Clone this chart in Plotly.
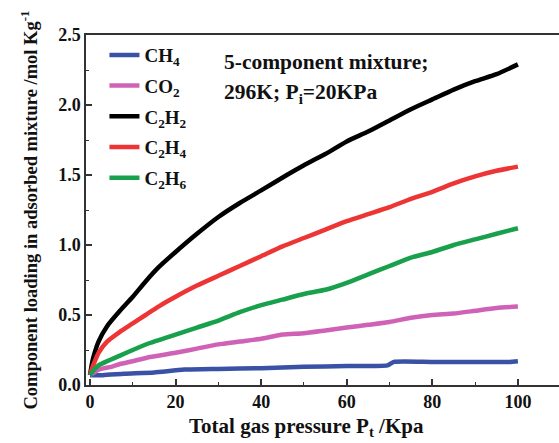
import plotly.graph_objects as go

# Pressure grids (KPa) and component loadings (mol/kg)
x_ch4 = [0, 3, 8, 15, 22, 30, 40, 50, 60, 69.5, 71, 80, 90, 98, 100]
y_ch4 = [0.07, 0.07, 0.08, 0.09, 0.11, 0.115, 0.12, 0.13, 0.135, 0.14, 0.165, 0.165, 0.165, 0.165, 0.17]

x_co2 = [0, 1, 2, 5, 7, 10, 14, 20, 25, 30, 35, 40, 45, 50, 55, 60, 65, 70, 75, 80, 85, 90, 95, 100]
y_co2 = [0.07, 0.09, 0.11, 0.13, 0.15, 0.17, 0.20, 0.23, 0.26, 0.29, 0.31, 0.33, 0.36, 0.37, 0.39,
         0.41, 0.43, 0.45, 0.48, 0.50, 0.51, 0.53, 0.55, 0.56]

x_c2h2 = [0, 0.5, 1, 2, 4, 7, 10, 13, 16, 20, 25, 30, 35, 40, 46, 50, 55, 60, 65, 70, 75, 80, 85, 90, 95, 100]
y_c2h2 = [0.07, 0.16, 0.22, 0.31, 0.42, 0.53, 0.63, 0.74, 0.84, 0.95, 1.08, 1.20, 1.30, 1.39, 1.50, 1.57,
          1.65, 1.74, 1.81, 1.89, 1.97, 2.04, 2.11, 2.17, 2.22, 2.29]

x_c2h4 = [0, 0.5, 1, 2, 4, 7, 10, 13, 16, 20, 25, 30, 35, 40, 45, 50, 55, 60, 65, 70, 75, 80, 85, 90, 95, 100]
y_c2h4 = [0.07, 0.12, 0.16, 0.23, 0.31, 0.38, 0.44, 0.50, 0.56, 0.63, 0.71, 0.78, 0.85, 0.92, 0.99, 1.05,
          1.11, 1.17, 1.22, 1.27, 1.33, 1.38, 1.44, 1.49, 1.53, 1.56]

x_c2h6 = [0, 1, 2, 4, 7, 10, 14, 20, 25, 30, 35, 40, 45, 50, 55, 60, 65, 70, 75, 80, 85, 90, 95, 100]
y_c2h6 = [0.07, 0.11, 0.14, 0.17, 0.21, 0.25, 0.30, 0.36, 0.41, 0.46, 0.52, 0.57, 0.61, 0.65, 0.68,
          0.73, 0.79, 0.85, 0.91, 0.95, 1.00, 1.04, 1.08, 1.12]

names = ["CH<sub>4</sub>", "CO<sub>2</sub>", "C<sub>2</sub>H<sub>2</sub>",
         "C<sub>2</sub>H<sub>4</sub>", "C<sub>2</sub>H<sub>6</sub>"]
colors = ["#3A52A6", "#CF62B6", "#000000", "#EE3535", "#18A04C"]
series = [(x_ch4, y_ch4), (x_co2, y_co2), (x_c2h2, y_c2h2), (x_c2h4, y_c2h4), (x_c2h6, y_c2h6)]

xticks = [0, 20, 40, 60, 80, 100]
yticks = [0, 0.5, 1.0, 1.5, 2.0, 2.5]

FONT = "Liberation Serif, Times New Roman, serif"

fig = go.Figure()
for i, ((xs, ys), n, c) in enumerate(zip(series, names, colors)):
    fig.add_trace(go.Scatter(x=xs, y=ys, mode="lines", name="<b>" + n + "</b>",
                             line=dict(color=c, width=4.5, shape="spline", smoothing=0.5),
                             legendgroup=str(i)))

fig.update_layout(
    width=559, height=443,
    margin=dict(l=86, r=0, t=35, b=58),
    plot_bgcolor="white", paper_bgcolor="white",
    font=dict(family=FONT, color="#111111", size=18),
    showlegend=True,
    legend=dict(x=0.039, y=0.997, xanchor="left", yanchor="top",
                bgcolor="rgba(0,0,0,0)", font=dict(family=FONT, size=19),
                tracegroupgap=3, itemwidth=30),
    xaxis=dict(range=[-0.93, 109.6], tickvals=xticks,
               ticktext=["<b>%d</b>" % v for v in xticks],
               ticks="inside", ticklen=6, tickwidth=1.5, tickcolor="#333333",
               minor=dict(dtick=10, tick0=0, ticks="inside", ticklen=3, tickcolor="#333333", tickwidth=1.2),
               showline=True, linecolor="#333333", linewidth=1.5, mirror=True,
               showgrid=False, zeroline=False, automargin=False,
               tickfont=dict(family=FONT, size=18)),
    yaxis=dict(range=[0, 2.5], tickvals=yticks,
               ticktext=["<b>%.1f</b>" % v for v in yticks],
               ticks="inside", ticklen=6, tickwidth=1.5, tickcolor="#333333",
               minor=dict(dtick=0.25, tick0=0, ticks="inside", ticklen=3, tickcolor="#333333", tickwidth=1.2),
               showline=True, linecolor="#333333", linewidth=1.5,
               showgrid=False, zeroline=False, automargin=False,
               tickfont=dict(family=FONT, size=18),
               title=dict(text="<b>Component loading in adsorbed mixture /mol Kg<sup>-1</sup></b>",
                          font=dict(family=FONT, size=18.5), standoff=16)),
    annotations=[
        dict(text="<b>5-component mixture;</b>", xref="paper", yref="paper",
             x=(222 - 86) / 473, y=(385 - 62) / 350, xanchor="left", yanchor="middle",
             showarrow=False, font=dict(family=FONT, size=21.5)),
        dict(text="<b>296K; P<sub>i</sub>=20KPa</b>", xref="paper", yref="paper",
             x=(222 - 86) / 473, y=(385 - 93) / 350, xanchor="left", yanchor="middle",
             showarrow=False, font=dict(family=FONT, size=21.5)),
        dict(text="<b>Total gas pressure P<sub>t</sub> /Kpa</b>", xref="paper", yref="paper",
             x=(306 - 86) / 473, y=-(412 - 385) / 350, xanchor="center", yanchor="top",
             showarrow=False, font=dict(family=FONT, size=21)),
    ],
)

fig.write_html("out.html", config={"displayModeBar": False},
               post_script="document.body.style.margin='0px';document.body.style.overflow='hidden';")
